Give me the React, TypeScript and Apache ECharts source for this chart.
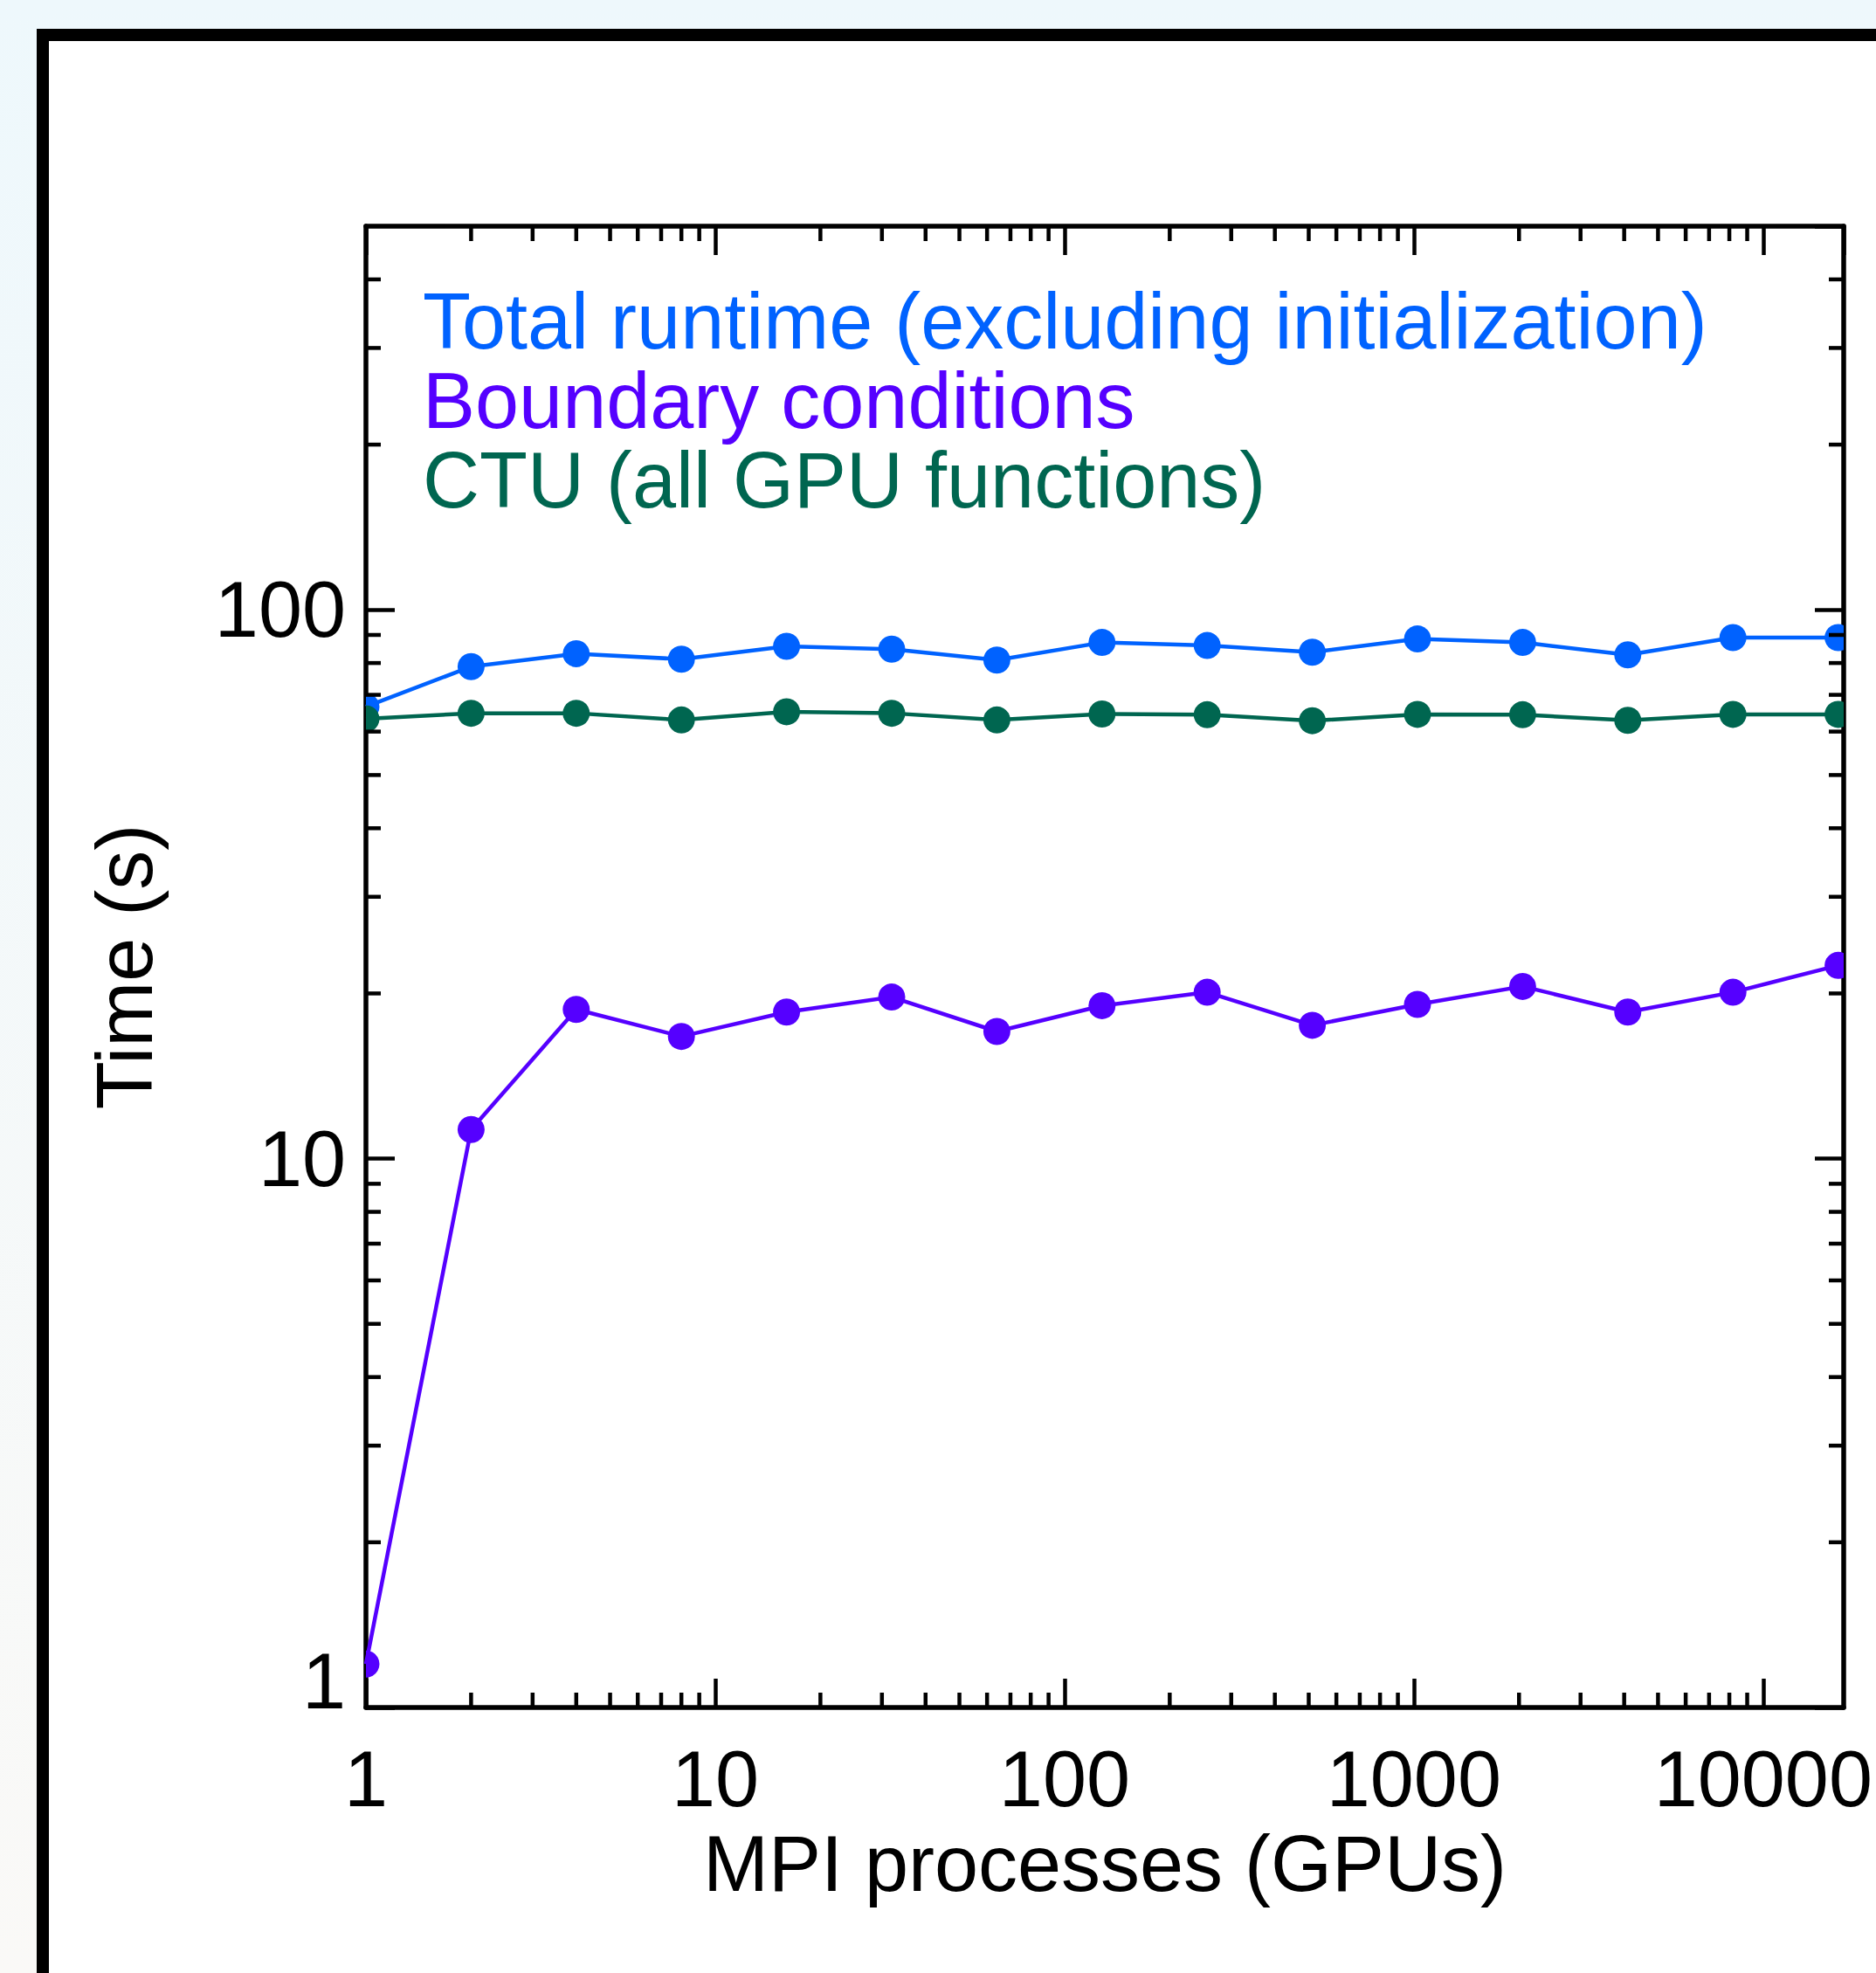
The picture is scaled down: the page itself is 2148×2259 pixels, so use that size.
import React, { useEffect, useRef } from 'react';
import * as echarts from 'echarts';

// ---- data ----
const processes = [1, 2, 4, 8, 16, 32, 64, 128, 256, 512, 1024, 2048, 4096, 8192, 16384];
const totalRuntime = [66.6, 78.8, 83.2, 81.3, 85.8, 84.8, 81.0, 87.2, 86.1, 83.7, 88.5, 87.2, 82.8, 89.0, 89.0];
const boundaryConditions = [1.2, 11.3, 18.7, 16.7, 18.5, 19.7, 17.05, 19.0, 20.1, 17.5, 19.1, 20.6, 18.5, 20.1, 22.5];
const ctuGpu = [63.3, 64.8, 64.8, 63.0, 65.2, 64.8, 63.0, 64.6, 64.4, 62.8, 64.5, 64.4, 62.9, 64.5, 64.5];

const seriesNames = [
  'Total runtime (excluding initialization)',
  'Boundary conditions',
  'CTU (all GPU functions)',
];
const seriesColors = ['#0062FF', '#5500FF', '#006650'];

// minor tick values
const xMinorTicks = [
  2, 3, 4, 5, 6, 7, 8, 9,
  20, 30, 40, 50, 60, 70, 80, 90,
  200, 300, 400, 500, 600, 700, 800, 900,
  2000, 3000, 4000, 5000, 6000, 7000, 8000, 9000,
];
const yMinorTicks = [
  2, 3, 4, 5, 6, 7, 8, 9,
  20, 30, 40, 50, 60, 70, 80, 90,
  200, 300, 400,
];

const X_MIN = 1;
const X_MAX = 17000;
const Y_MIN = 1;
const Y_MAX = 500;

const FONT = 'Liberation Sans';
const FS = 90;
const AXIS_W = 5.5;
const TICK_W = 4.5;
const MAJOR_LEN = 33;
const MINOR_LEN = 17;

function isDecade(v: number) {
  const l = Math.log10(v);
  return Math.abs(l - Math.round(l)) < 1e-9;
}

function App() {
  const ref = useRef<HTMLDivElement>(null);

  useEffect(() => {
    if (!ref.current) return;
    const chart = echarts.init(ref.current, null, { renderer: 'svg' });

    const valueSets = [totalRuntime, boundaryConditions, ctuGpu];
    const pairs = valueSets.map((vals) => processes.map((p, i) => [p, vals[i]]));

    const lineSeries = pairs.map((d, k) => ({
      name: seriesNames[k],
      type: 'line',
      data: d,
      symbol: 'none',
      clip: true,
      lineStyle: { color: seriesColors[k], width: 4.5 },
      itemStyle: { color: seriesColors[k] },
      z: 3,
    }));

    const markerSeries = pairs.map((d, k) => ({
      name: seriesNames[k] + ' markers',
      type: 'custom',
      data: d,
      clip: true,
      silent: true,
      z: 4,
      renderItem: (params: any, api: any) => {
        const p = api.coord([api.value(0), api.value(1)]);
        return {
          type: 'circle',
          shape: { cx: p[0], cy: p[1], r: 15.5 },
          style: { fill: seriesColors[k] },
        };
      },
    }));

    const xMinorSeries = {
      type: 'custom',
      name: 'x minor ticks',
      silent: true,
      data: xMinorTicks.map((v) => [v, Y_MIN]),
      z: 5,
      renderItem: (params: any, api: any) => {
        const v = api.value(0);
        const b = api.coord([v, Y_MIN]);
        const t = api.coord([v, Y_MAX]);
        const st = { stroke: '#000', lineWidth: TICK_W };
        return {
          type: 'group',
          children: [
            { type: 'line', shape: { x1: b[0], y1: b[1], x2: b[0], y2: b[1] - MINOR_LEN }, style: st },
            { type: 'line', shape: { x1: t[0], y1: t[1], x2: t[0], y2: t[1] + MINOR_LEN }, style: st },
          ],
        };
      },
    };

    const yMinorSeries = {
      type: 'custom',
      name: 'y minor ticks',
      silent: true,
      data: yMinorTicks.map((v) => [X_MIN, v]),
      z: 5,
      renderItem: (params: any, api: any) => {
        const v = api.value(1);
        const l = api.coord([X_MIN, v]);
        const r = api.coord([X_MAX, v]);
        const st = { stroke: '#000', lineWidth: TICK_W };
        return {
          type: 'group',
          children: [
            { type: 'line', shape: { x1: l[0], y1: l[1], x2: l[0] + MINOR_LEN, y2: l[1] }, style: st },
            { type: 'line', shape: { x1: r[0], y1: r[1], x2: r[0] - MINOR_LEN, y2: r[1] }, style: st },
          ],
        };
      },
    };

    const axisLine = { show: true, onZero: false, lineStyle: { color: '#000', width: AXIS_W } };
    const axisTick = { show: true, inside: true, length: MAJOR_LEN, lineStyle: { color: '#000', width: TICK_W } };
    const labelFormatter = (v: number) => (isDecade(v) ? String(Math.round(v)) : '');

    chart.setOption({
      animation: false,
      textStyle: { fontFamily: FONT },
      graphic: [
        {
          type: 'rect',
          z: -100,
          silent: true,
          shape: { x: 49, y: 40, width: 2400, height: 2400 },
          style: { fill: '#ffffff', stroke: '#000000', lineWidth: 14 },
        },
      ],
      grid: { left: 419, top: 259, width: 1692, height: 1696, containLabel: false },
      legend: {
        show: true,
        orient: 'vertical',
        left: 474,
        top: 317,
        icon: 'none',
        itemWidth: 0,
        itemHeight: 0,
        itemGap: 0,
        selectedMode: false,
        textStyle: { fontFamily: FONT, fontSize: FS, lineHeight: 91 },
        data: seriesNames.map((n, k) => ({ name: n, textStyle: { color: seriesColors[k] } })),
      },
      xAxis: [
        {
          type: 'log',
          logBase: 10,
          min: X_MIN,
          max: X_MAX,
          interval: 1,
          position: 'bottom',
          name: 'MPI processes (GPUs)',
          nameLocation: 'middle',
          nameGap: 134,
          nameTextStyle: { fontFamily: FONT, fontSize: FS, color: '#000', lineHeight: 90 },
          axisLine,
          axisTick,
          splitLine: { show: false },
          axisLabel: {
            show: true,
            margin: 37,
            fontFamily: FONT,
            fontSize: FS,
            lineHeight: 90,
            color: '#000',
            formatter: labelFormatter,
            showMinLabel: true,
            showMaxLabel: false,
            hideOverlap: false,
          },
        },
        {
          type: 'log',
          logBase: 10,
          min: X_MIN,
          max: X_MAX,
          interval: 1,
          position: 'top',
          axisLine,
          axisTick,
          splitLine: { show: false },
          axisLabel: { show: false },
        },
      ],
      yAxis: [
        {
          type: 'log',
          logBase: 10,
          min: Y_MIN,
          max: Y_MAX,
          interval: 1,
          position: 'left',
          name: 'Time (s)',
          nameLocation: 'middle',
          nameGap: 231,
          nameTextStyle: { fontFamily: FONT, fontSize: FS, color: '#000', lineHeight: 90 },
          axisLine,
          axisTick,
          splitLine: { show: false },
          axisLabel: {
            show: true,
            margin: 23,
            fontFamily: FONT,
            fontSize: FS,
            lineHeight: 60,
            color: '#000',
            formatter: labelFormatter,
            showMinLabel: true,
            showMaxLabel: false,
            verticalAlignMinLabel: 'bottom',
            hideOverlap: false,
          },
        },
        {
          type: 'log',
          logBase: 10,
          min: Y_MIN,
          max: Y_MAX,
          interval: 1,
          position: 'right',
          axisLine,
          axisTick,
          splitLine: { show: false },
          axisLabel: { show: false },
        },
      ],
      series: [...lineSeries, ...markerSeries, xMinorSeries, yMinorSeries],
    });

    return () => {
      chart.dispose();
    };
  }, []);

  return (
    <div
      style={{
        position: 'absolute',
        left: 0,
        top: 0,
        width: 2148,
        height: 2259,
        background: 'linear-gradient(180deg, #EEF8FC 0%, #FAF9F7 100%)',
      }}
    >
      <div ref={ref} style={{ width: 2148, height: 2259 }} />
    </div>
  );
}

export default App;
